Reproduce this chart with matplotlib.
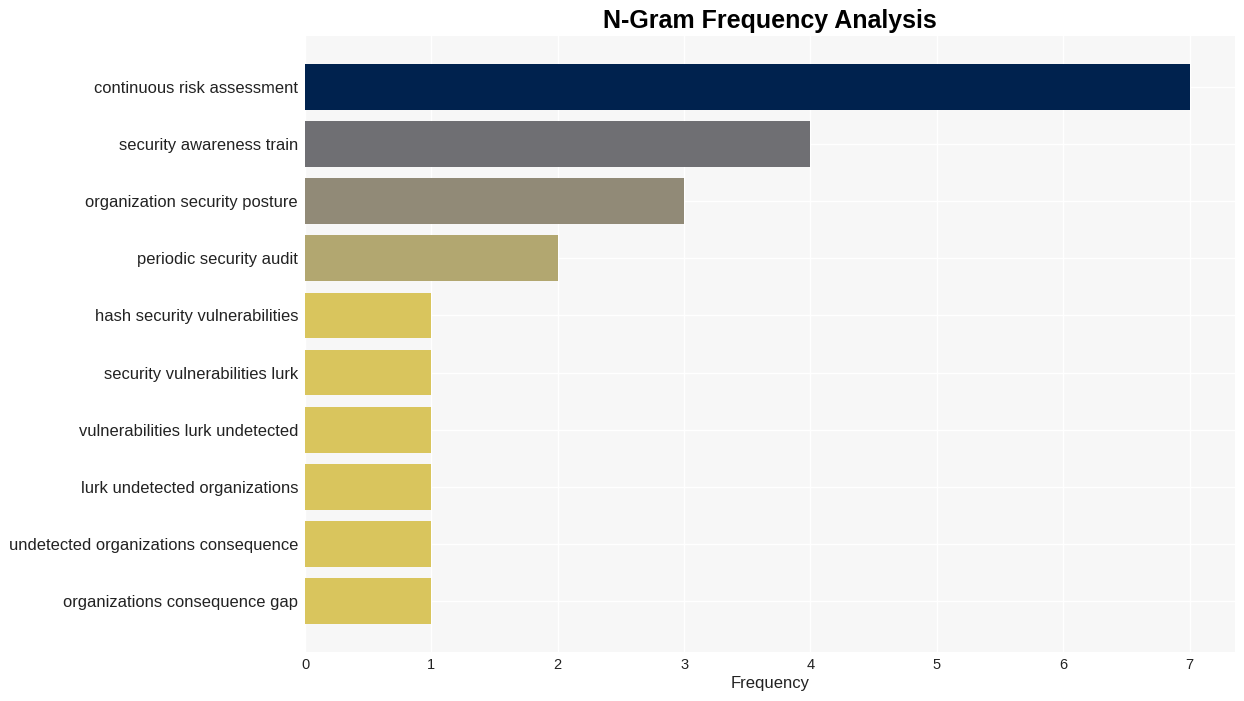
import numpy as np
import matplotlib.pyplot as plt

plt.rcParams['font.family'] = ['Liberation Sans', 'DejaVu Sans']

ngrams = ["continuous risk assessment", "security awareness train",
          "organization security posture", "periodic security audit",
          "hash security vulnerabilities", "security vulnerabilities lurk",
          "vulnerabilities lurk undetected", "lurk undetected organizations",
          "undetected organizations consequence", "organizations consequence gap"]
counts = [7, 4, 3, 2, 1, 1, 1, 1, 1, 1]
colors = ["#00224e", "#6f6f73", "#918a77", "#b2a770", "#d9c55d",
          "#d9c55d", "#d9c55d", "#d9c55d", "#d9c55d", "#d9c55d"]

fig = plt.figure(figsize=(12.44, 7.01), dpi=100)
ax = fig.add_axes([305/1244, 1-652/701, 930/1244, 616/701])
ax.set_facecolor("#f7f7f7")

y = np.arange(len(ngrams))
ax.barh(y, counts, height=0.8, color=colors, zorder=2)
ax.set_yticks(y)
ax.set_yticklabels(ngrams, fontsize=11.9, color="#222222")
ax.set_ylim(9.89, -0.89)
ax.set_xlim(0, 7.36)
ax.set_xticks(range(8))
ax.tick_params(axis="x", labelsize=10.5, pad=4, labelcolor="#222222")
ax.tick_params(axis="y", pad=5)
ax.tick_params(length=0)
ax.grid(True, color="white", linewidth=1, zorder=1)
for s in ax.spines.values():
    s.set_visible(False)
ax.set_xlabel("Frequency", fontsize=12, labelpad=3, color="#222222")
ax.set_title("N-Gram Frequency Analysis", fontsize=18, fontweight="bold", pad=6)

fig.savefig("out.png", dpi=100)
